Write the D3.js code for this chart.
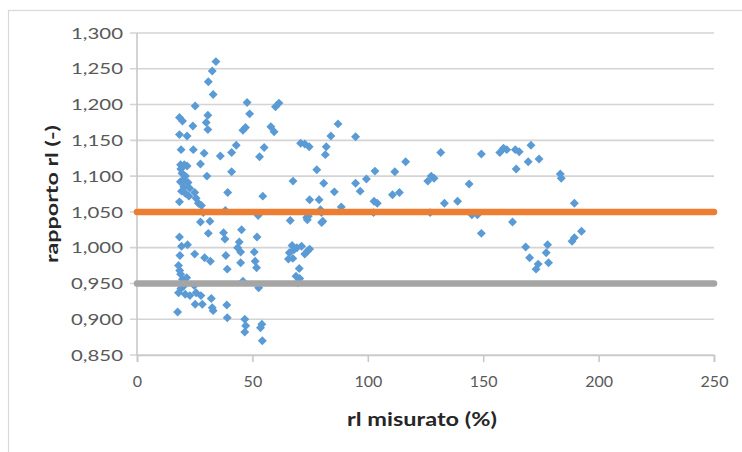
<!DOCTYPE html>
<html>
<head>
<meta charset="utf-8">
<script src="https://cdn.jsdelivr.net/npm/d3@7/dist/d3.min.js"></script>
<style>
  html, body { margin: 0; padding: 0; background: #ffffff; }
  svg { display: block; }
</style>
</head>
<body>
<svg id="chart" width="742" height="452"></svg>
<script>
// ---- data ----
const rlMisurato = [
  34.2,32.6,30.9,33.0,25.2,30.7,30.0,30.7,29.1,30.3,27.5,24.4,24.2,21.7,18.4,19.7,18.4,19.1,18.9,20.5,
  21.7,19.5,20.1,22.1,19.3,20.9,18.4,22.5,25.0,25.6,26.6,27.9,28.7,27.5,31.6,30.9,36.1,39.3,38.3,37.5,
  38.1,38.5,39.1,41.0,43.0,41.0,45.3,44.3,43.6,44.9,44.9,45.9,45.9,47.0,47.7,48.8,53.1,55.1,54.5,52.5,
  52.0,50.8,51.2,51.8,52.7,58.0,59.4,60.0,61.5,18.4,19.3,21.9,18.6,18.0,18.9,19.7,18.0,20.1,21.5,20.9,
  22.9,17.6,25.0,24.8,25.6,27.7,25.2,28.3,29.3,31.8,32.2,32.6,33.0,38.9,39.1,46.7,47.1,46.7,53.5,54.1,
  54.3,66.4,67.6,66.0,65.6,67.2,69.3,68.9,69.7,70.3,70.9,72.7,74.6,71.3,72.7,73.8,74.8,73.8,74.8,74.2,
  77.9,78.9,79.5,79.9,80.5,80.9,81.6,82.0,84.0,85.5,87.1,88.5,94.7,94.7,96.7,99.4,103.1,102.7,104.1,102.5,
  111.7,110.7,113.7,116.4,126.0,127.5,128.7,127.0,131.6,133.2,138.9,143.9,145.1,147.5,149.2,149.2,157.2,158.8,160.2,163.9,
  165.6,164.3,162.7,170.7,169.5,174.2,168.4,170.1,172.9,173.8,178.3,177.3,177.9,183.4,183.8,189.5,188.5,189.5,192.6,
  19.0,20.3,21.0,18.8,22.8,19.0,18.5,68.0,70.5,67.5,73.5,80.0
];
const rapportoRl = [
  1.260,1.247,1.232,1.214,1.198,1.185,1.175,1.165,1.132,1.100,1.117,1.137,1.170,1.156,1.182,1.177,1.158,1.137,1.116,1.116,
  1.114,1.104,1.095,1.091,1.079,1.076,1.064,1.072,1.077,1.069,1.062,1.059,1.049,1.036,1.037,1.020,1.128,1.077,1.052,1.021,
  1.012,0.989,0.970,1.133,1.143,1.106,1.025,1.008,1.000,0.994,0.979,0.953,1.164,1.168,1.203,1.187,1.127,1.140,1.072,1.045,
  1.015,0.994,0.981,0.972,0.944,1.169,1.162,1.197,1.202,1.015,1.002,1.004,0.989,0.975,0.963,0.956,0.937,0.946,0.958,0.935,
  0.933,0.910,0.991,0.947,0.937,0.933,0.921,0.921,0.986,0.981,0.929,0.916,0.912,0.920,0.902,0.900,0.891,0.882,0.888,0.893,
  0.870,1.038,1.093,0.993,0.984,1.003,1.000,0.960,0.951,0.971,1.146,1.145,1.141,1.002,0.991,0.995,0.998,1.039,1.067,1.044,
  1.109,1.067,1.053,1.049,1.037,1.090,1.130,1.141,1.156,1.078,1.173,1.057,1.155,1.090,1.079,1.096,1.107,1.065,1.062,1.049,
  1.106,1.074,1.077,1.120,1.093,1.100,1.097,1.049,1.133,1.062,1.065,1.089,1.046,1.046,1.131,1.020,1.133,1.139,1.137,1.137,
  1.134,1.110,1.036,1.143,1.120,1.124,1.001,0.986,0.970,0.977,0.979,0.993,1.004,1.103,1.097,1.062,1.009,1.014,1.023,
  1.110,1.085,1.100,1.092,1.083,0.943,0.968,0.997,0.957,0.985,1.042,1.035
];
const limitUpper = [1.05, 1.05];
const limitLower = [0.95, 0.95];
const limitX = [0, 250];
const xTicks = [0, 50, 100, 150, 200, 250];
const yTicks = [0.85, 0.90, 0.95, 1.00, 1.05, 1.10, 1.15, 1.20, 1.25, 1.30];
const xTitle = "rl misurato (%)";
const yTitle = "rapporto rl (-)";

// ---- layout ----
const svg = d3.select("#chart");
const pLeft = 137, pRight = 714, pTop = 33, pBottom = 355;
const x = d3.scaleLinear().domain([0, 250]).range([pLeft, pRight]);
const y = d3.scaleLinear().domain([0.85, 1.30]).range([pBottom, pTop]);
const itFmt = d3.formatLocale({decimal: ",", thousands: ".", grouping: [3], currency: ["", "€"]}).format(".3f");
const font = "Lato, 'Open Sans', sans-serif";

// outer chart border
svg.append("rect").attr("x", 8.5).attr("y", 10.5).attr("width", 800).attr("height", 500)
  .attr("fill", "none").attr("stroke", "#d9d9d9").attr("stroke-width", 1.2);

// gridlines
svg.append("g").selectAll("line").data(yTicks).join("line")
  .attr("x1", pLeft - 7).attr("x2", pRight)
  .attr("y1", d => y(d)).attr("y2", d => y(d))
  .attr("stroke", "#d4d4d4").attr("stroke-width", 1.6);

// y axis line
svg.append("line").attr("x1", pLeft).attr("x2", pLeft).attr("y1", pTop).attr("y2", pBottom)
  .attr("stroke", "#c8c8c8").attr("stroke-width", 1.6);

// x axis
const xAxis = svg.append("g").attr("transform", `translate(0,${pBottom})`)
  .call(d3.axisBottom(x).tickValues(xTicks).tickSize(7).tickPadding(14).tickFormat(d3.format("d")));
xAxis.select(".domain").attr("stroke", "#c8c8c8").attr("stroke-width", 1.6);
xAxis.selectAll(".tick line").attr("stroke", "#c8c8c8").attr("stroke-width", 1.6);
xAxis.selectAll(".tick text").attr("fill", "#595959").attr("font-family", font).attr("font-size", 16);

// y axis labels
const yAxis = svg.append("g").attr("transform", `translate(${pLeft},0)`)
  .call(d3.axisLeft(y).tickValues(yTicks).tickSize(0).tickPadding(14).tickFormat(itFmt));
yAxis.select(".domain").remove();
yAxis.selectAll(".tick text").attr("fill", "#595959").attr("font-family", font).attr("font-size", 16)
  .attr("textLength", 52).attr("lengthAdjust", "spacingAndGlyphs");

// points
const diamond = { draw(ctx, size) { const r = Math.sqrt(size / 2);
  ctx.moveTo(0, -r); ctx.lineTo(r, 0); ctx.lineTo(0, r); ctx.lineTo(-r, 0); ctx.closePath(); } };
const sym = d3.symbol().type(diamond).size(40);
svg.append("g").selectAll("path").data(d3.range(rlMisurato.length)).join("path")
  .attr("d", sym)
  .attr("transform", i => `translate(${x(rlMisurato[i])},${y(rapportoRl[i])})`)
  .attr("fill", "#5b9bd5");

// limit lines
const line = d3.line().x(d => x(d[0])).y(d => y(d[1]));
svg.append("path").datum(limitX.map((v, i) => [v, limitLower[i]])).attr("d", line)
  .attr("fill", "none").attr("stroke", "#a5a5a5").attr("stroke-width", 6.5).attr("stroke-linecap", "round");
svg.append("path").datum(limitX.map((v, i) => [v, limitUpper[i]])).attr("d", line)
  .attr("fill", "none").attr("stroke", "#ed7d31").attr("stroke-width", 6.5).attr("stroke-linecap", "round");

// titles
svg.append("text").attr("x", 422).attr("y", 426).attr("text-anchor", "middle")
  .attr("font-family", font).attr("font-weight", "bold").attr("font-size", 18).attr("fill", "#262626")
  .attr("textLength", 150).attr("lengthAdjust", "spacingAndGlyphs").text(xTitle);
svg.append("text").attr("transform", `translate(58,194) rotate(-90)`).attr("text-anchor", "middle")
  .attr("font-family", font).attr("font-weight", "bold").attr("font-size", 17).attr("fill", "#262626")
  .attr("textLength", 138).attr("lengthAdjust", "spacingAndGlyphs").text(yTitle);
</script>
</body>
</html>
